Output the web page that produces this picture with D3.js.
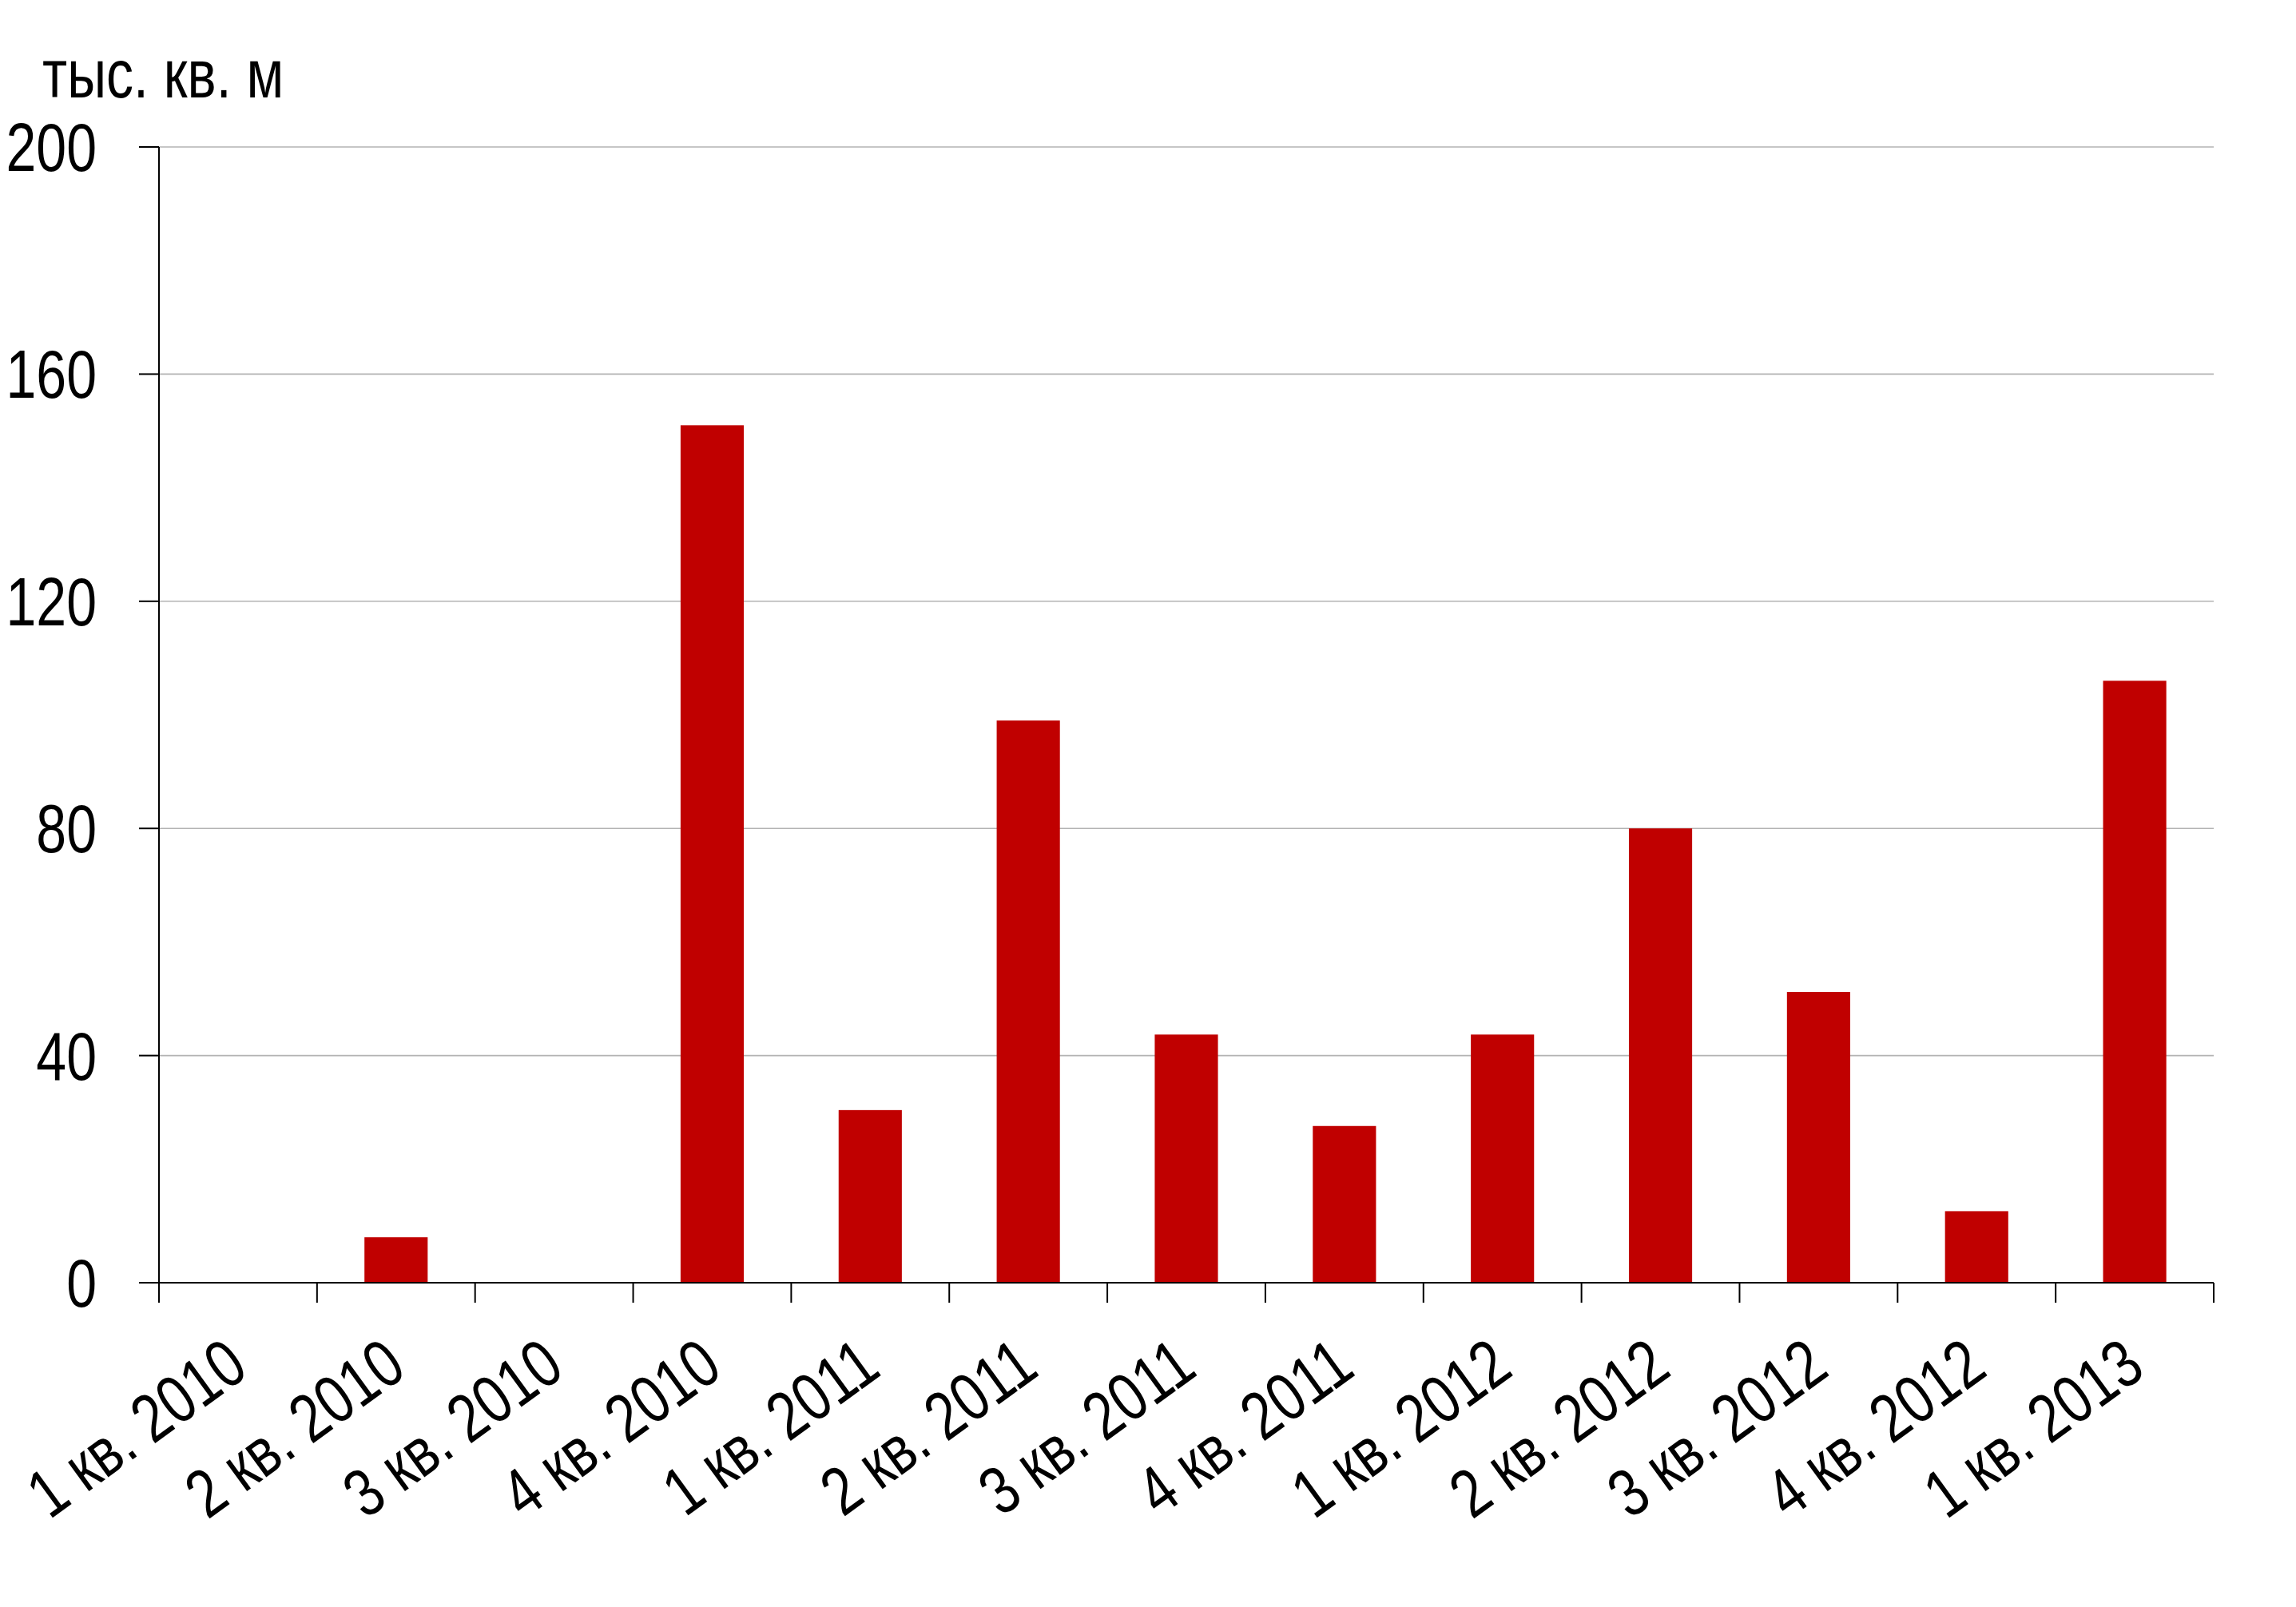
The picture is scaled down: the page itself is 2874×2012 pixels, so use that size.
<!DOCTYPE html>
<html>
<head>
<meta charset="utf-8">
<script src="https://cdn.jsdelivr.net/npm/d3@7"></script>
<style>
  html, body { margin: 0; padding: 0; background: #fff; }
  svg { display: block; }
  text { font-family: "Liberation Sans", Arial, sans-serif; fill: #000; }
</style>
</head>
<body>
<svg id="chart" width="2874" height="2012"></svg>
<script>
const categories = ["1 кв. 2010", "2 кв. 2010", "3 кв. 2010", "4 кв. 2010",
  "1 кв. 2011", "2 кв. 2011", "3 кв. 2011", "4 кв. 2011",
  "1 кв. 2012", "2 кв. 2012", "3 кв. 2012", "4 кв. 2012", "1 кв. 2013"];
const values = [0, 8, 0, 151, 30.4, 99, 43.7, 27.6, 43.7, 80, 51.2, 12.6, 106];
const yTicks = [0, 40, 80, 120, 160, 200];
const unitLabel = "тыс. кв. м";

(function () {
  const plotL = 199, plotR = 2771, plotT = 184, plotB = 1606;
  const FS = 85, SX = 0.8;

  const svg = d3.select("#chart");

  const x = d3.scaleBand().domain(categories).range([plotL, plotR])
    .paddingInner(0.6).paddingOuter(0.3).align(0.5);
  const y = d3.scaleLinear().domain([0, 200]).range([plotB, plotT]);

  // gridlines
  svg.append("g").selectAll("line").data(yTicks.filter(d => d > 0)).join("line")
    .attr("x1", plotL).attr("x2", plotR)
    .attr("y1", d => y(d)).attr("y2", d => y(d))
    .attr("stroke", "#b3b3b3").attr("stroke-width", 1.6);

  // bars
  svg.append("g").selectAll("rect").data(categories).join("rect")
    .attr("x", c => x(c))
    .attr("width", x.bandwidth())
    .attr("y", (c, i) => y(values[i]))
    .attr("height", (c, i) => y(0) - y(values[i]))
    .attr("fill", "#c00000");

  // y axis
  const ya = svg.append("g");
  ya.append("line").attr("x1", plotL).attr("x2", plotL).attr("y1", y(200)).attr("y2", y(0))
    .attr("stroke", "#000").attr("stroke-width", 2);
  ya.selectAll("line.tick").data(yTicks).join("line").attr("class", "tick")
    .attr("x1", plotL - 25).attr("x2", plotL)
    .attr("y1", d => y(d)).attr("y2", d => y(d))
    .attr("stroke", "#000").attr("stroke-width", 2);
  ya.selectAll("text").data(yTicks).join("text")
    .attr("text-anchor", "end")
    .attr("font-size", FS)
    .attr("transform", d => `translate(121,${y(d) + 30}) scale(${SX},1)`)
    .text(d => d);

  // x axis
  const step = x.step();
  const bounds = categories.map(c => x(c) + x.bandwidth() / 2 - step / 2);
  bounds.push(x(categories[categories.length - 1]) + x.bandwidth() / 2 + step / 2);
  const xa = svg.append("g");
  xa.append("line").attr("x1", plotL).attr("x2", plotR).attr("y1", y(0)).attr("y2", y(0))
    .attr("stroke", "#000").attr("stroke-width", 2);
  xa.selectAll("line.tick").data(bounds).join("line").attr("class", "tick")
    .attr("x1", d => d).attr("x2", d => d)
    .attr("y1", y(0)).attr("y2", y(0) + 25)
    .attr("stroke", "#000").attr("stroke-width", 2);
  xa.selectAll("text").data(categories).join("text")
    .attr("text-anchor", "end")
    .attr("font-size", FS)
    .attr("transform", c => `translate(${x(c) + x.bandwidth() / 2 + 16},${y(0) + 114}) rotate(-36) scale(${SX},1)`)
    .text(c => c);

  // unit label
  svg.append("text")
    .attr("font-size", FS)
    .attr("transform", `translate(53,122) scale(${SX},1)`)
    .text(unitLabel);
})();
</script>
</body>
</html>
